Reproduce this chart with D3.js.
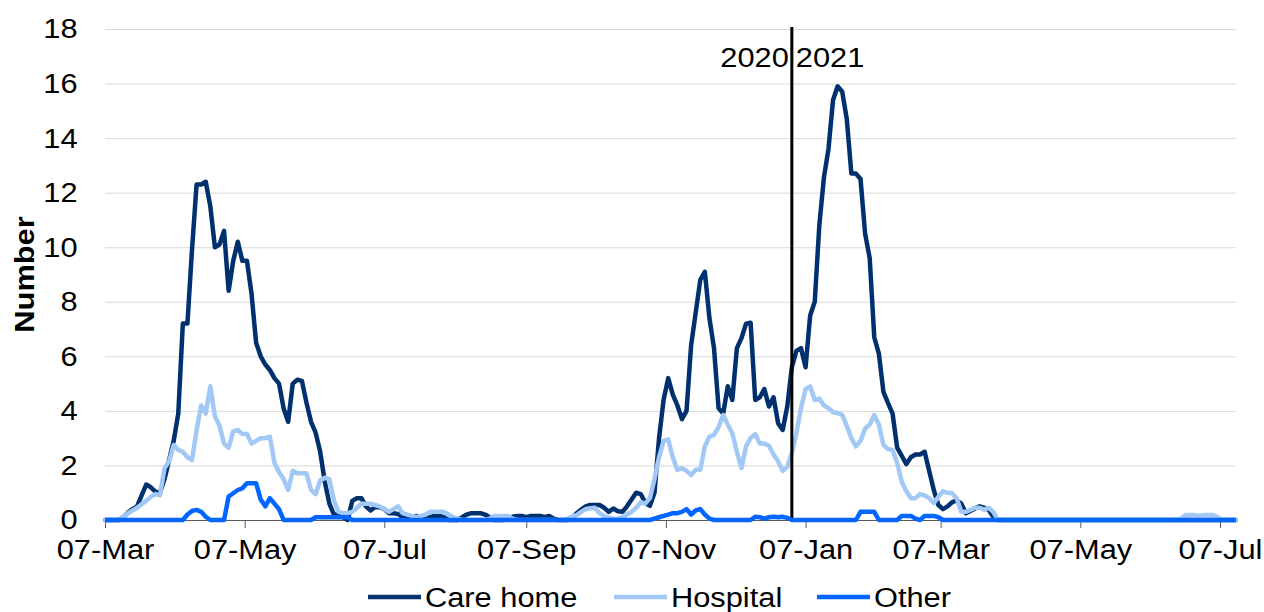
<!DOCTYPE html>
<html>
<head>
<meta charset="utf-8">
<script src="https://cdn.jsdelivr.net/npm/d3@7"></script>
<style>
  html, body { margin: 0; padding: 0; background: #fff; }
  svg { display: block; font-family: "Liberation Sans", Arial, sans-serif; }
</style>
</head>
<body>
<div id="chart"></div>
<script>
// daily series sampled every 2 days from 07-Mar-2020
const startDate = new Date(2020, 2, 7);
const endDate = new Date(2021, 6, 14);
const stepDays = 2;

const careHome = [
  0, 0, 0, 0, 0.1, 0.27, 0.4, 0.5, 0.9, 1.3,
  1.2, 1.04, 1.0, 1.5, 2.2, 2.9, 3.9, 7.2, 7.2, 9.9,
  12.3, 12.3, 12.4, 11.5, 10.0, 10.1, 10.6, 8.4, 9.5, 10.2,
  9.5, 9.5, 8.3, 6.5, 6.0, 5.7, 5.5, 5.2, 5.0, 4.1,
  3.6, 5.0, 5.14, 5.1, 4.3, 3.6, 3.2, 2.5, 1.4, 0.6,
  0.2, 0.2, 0.1, 0, 0.7, 0.8, 0.8, 0.5, 0.35, 0.48,
  0.47, 0.4, 0.25, 0.25, 0.22, 0.1, 0.1, 0.12, 0.15, 0.1,
  0.05, 0.1, 0.15, 0.15, 0.1, 0, 0, 0, 0.1, 0.2,
  0.25, 0.25, 0.25, 0.2, 0.1, 0, 0, 0, 0.05, 0.12,
  0.15, 0.15, 0.1, 0.15, 0.15, 0.15, 0.1, 0.15, 0.05, 0,
  0, 0, 0.05, 0.25, 0.38, 0.5, 0.55, 0.55, 0.55, 0.45,
  0.3, 0.42, 0.32, 0.3, 0.5, 0.75, 1.0, 0.95, 0.62, 0.52,
  1.0, 3.0, 4.42, 5.2, 4.6, 4.2, 3.7, 4.0, 6.4, 7.6,
  8.8, 9.1, 7.4, 6.3, 4.1, 3.9, 4.9, 4.4, 6.3, 6.67,
  7.2, 7.23, 4.4, 4.5, 4.8, 4.16, 4.5, 3.55, 3.3, 4.16,
  5.6, 6.2, 6.3, 5.6, 7.5, 8.0, 10.8, 12.55, 13.6, 15.4,
  15.9, 15.7, 14.7, 12.7, 12.7, 12.5, 10.5, 9.6, 6.7, 6.1,
  4.7, 4.29, 3.9, 2.65, 2.35, 2.05, 2.3, 2.4, 2.4, 2.5,
  1.8, 1.1, 0.55, 0.4, 0.5, 0.65, 0.72, 0.6, 0.25, 0.33,
  0.42, 0.5, 0.45, 0.37, 0.12, 0, 0, 0, 0, 0,
  0, 0, 0, 0, 0, 0, 0, 0, 0, 0,
  0, 0, 0, 0, 0, 0, 0, 0, 0, 0,
  0, 0, 0, 0, 0, 0, 0, 0, 0, 0,
  0, 0, 0, 0, 0, 0, 0, 0, 0, 0,
  0, 0, 0, 0, 0, 0, 0, 0
];

const hospital = [
  0, 0, 0, 0, 0.1, 0.25, 0.35, 0.45, 0.58, 0.7,
  0.85, 0.95, 0.9, 1.9, 2.15, 2.75, 2.57, 2.5, 2.3, 2.2,
  3.3, 4.2, 3.9, 4.9, 3.8, 3.45, 2.8, 2.65, 3.25, 3.3,
  3.15, 3.15, 2.8, 2.9, 3.0, 3.0, 3.06, 2.1, 1.75, 1.5,
  1.1, 1.8, 1.71, 1.71, 1.71, 1.1, 0.95, 1.45, 1.55, 1.5,
  0.7, 0.3, 0.25, 0.25, 0.3, 0.45, 0.6, 0.6, 0.6, 0.55,
  0.5, 0.4, 0.3, 0.4, 0.5, 0.25, 0.2, 0.15, 0.1, 0.15,
  0.2, 0.3, 0.3, 0.3, 0.3, 0.2, 0.1, 0.05, 0, 0,
  0, 0, 0, 0, 0.05, 0.15, 0.15, 0.15, 0.15, 0.05,
  0, 0, 0, 0, 0, 0, 0, 0, 0, 0,
  0, 0.05, 0.12, 0.18, 0.3, 0.4, 0.43, 0.45, 0.25, 0.15,
  0.08, 0.05, 0.05, 0.1, 0.2, 0.3, 0.45, 0.65, 0.6, 0.8,
  1.5, 2.3, 2.9, 2.95, 2.3, 1.84, 1.9, 1.8, 1.65, 1.84,
  1.84, 2.7, 3.06, 3.12, 3.4, 3.85, 3.5, 3.18, 2.5, 1.9,
  2.7, 3.0, 3.15, 2.8, 2.8, 2.72, 2.4, 2.15, 1.8, 1.95,
  2.45, 3.2, 4.1, 4.8, 4.9, 4.4, 4.45, 4.2, 4.1, 3.95,
  3.92, 3.85, 3.45, 3.0, 2.7, 2.9, 3.35, 3.5, 3.85, 3.5,
  2.75, 2.6, 2.57, 2.1, 1.4, 1.05, 0.8, 0.8, 0.95, 0.9,
  0.8, 0.62, 0.85, 1.05, 1.0, 0.98, 0.8, 0.3, 0.3, 0.37,
  0.45, 0.45, 0.38, 0.45, 0.3, 0, 0, 0, 0, 0,
  0, 0, 0, 0, 0, 0, 0, 0, 0, 0,
  0, 0, 0, 0, 0, 0, 0, 0, 0, 0,
  0, 0, 0, 0, 0, 0, 0, 0, 0, 0,
  0, 0, 0, 0, 0, 0.05, 0.18, 0.18, 0.18, 0.15,
  0.18, 0.18, 0.18, 0.1, 0, 0, 0, 0
];

const other = [
  0, 0, 0, 0, 0, 0, 0, 0, 0, 0,
  0, 0, 0, 0, 0, 0, 0, 0, 0.2, 0.33,
  0.37, 0.3, 0.12, 0, 0, 0, 0, 0.86, 0.98, 1.1,
  1.16, 1.35, 1.35, 1.35, 0.75, 0.5, 0.8, 0.6, 0.4, 0,
  0, 0, 0, 0, 0, 0, 0.1, 0.1, 0.1, 0.1,
  0.1, 0.1, 0.1, 0.1, 0, 0, 0, 0, 0, 0,
  0, 0, 0, 0, 0, 0, 0, 0, 0, 0,
  0, 0, 0, 0, 0, 0, 0, 0, 0, 0,
  0, 0, 0, 0, 0, 0, 0, 0, 0, 0,
  0, 0, 0, 0, 0, 0, 0, 0, 0, 0,
  0, 0, 0, 0, 0, 0, 0, 0, 0, 0,
  0, 0, 0, 0, 0, 0, 0, 0, 0, 0,
  0.05, 0.1, 0.15, 0.2, 0.25, 0.25, 0.3, 0.4, 0.2, 0.35,
  0.4, 0.2, 0.05, 0, 0, 0, 0, 0, 0, 0,
  0, 0, 0.12, 0.1, 0.05, 0.1, 0.12, 0.1, 0.12, 0.08,
  0, 0, 0, 0, 0, 0, 0, 0, 0, 0,
  0, 0, 0, 0, 0, 0.3, 0.3, 0.3, 0.3, 0,
  0, 0, 0, 0, 0.15, 0.15, 0.15, 0.05, 0, 0.15,
  0.15, 0.15, 0.1, 0, 0, 0, 0, 0, 0, 0,
  0, 0, 0, 0, 0, 0, 0, 0, 0, 0,
  0, 0, 0, 0, 0, 0, 0, 0, 0, 0,
  0, 0, 0, 0, 0, 0, 0, 0, 0, 0,
  0, 0, 0, 0, 0, 0, 0, 0, 0, 0,
  0, 0, 0, 0, 0, 0, 0, 0, 0, 0,
  0, 0, 0, 0, 0, 0, 0, 0
];

const xTickDates = ['2020-03-07', '2020-05-07', '2020-07-07', '2020-09-07', '2020-11-07',
  '2021-01-07', '2021-03-07', '2021-05-07', '2021-07-07'];
const yTicks = [0, 2, 4, 6, 8, 10, 12, 14, 16, 18];
const yearSplit = '2021-01-01';
const yearLabels = ['2020', '2021'];

const seriesNames = ['Care home', 'Hospital', 'Other'];
const seriesColors = ['#00306e', '#a2c8f6', '#0066ff'];

const width = 1264, height = 612;
const plot = { left: 105, right: 1236, top: 29, bottom: 520 };
const textScale = 'scale(1.1,1)';

const parseDay = d3.timeParse('%Y-%m-%d');
const dates = careHome.map((_, i) => d3.timeDay.offset(startDate, i * stepDays));

const svg = d3.select('#chart').append('svg')
  .attr('width', width)
  .attr('height', height);

const x = d3.scaleTime()
  .domain([startDate, endDate])
  .range([plot.left, plot.right]);

const y = d3.scaleLinear()
  .domain([0, 18])
  .range([plot.bottom, plot.top]);

// gridlines
svg.append('g')
  .attr('transform', `translate(${plot.left},0)`)
  .call(d3.axisLeft(y).tickValues(yTicks.slice(1)).tickFormat('').tickSize(-(plot.right - plot.left)))
  .call(g => g.select('.domain').remove())
  .call(g => g.selectAll('line').attr('stroke', '#d9d9d9').attr('stroke-width', 1));

// y axis labels
svg.append('g')
  .attr('transform', `translate(${plot.left},0)`)
  .call(d3.axisLeft(y).tickValues(yTicks).tickSize(0).tickPadding(25))
  .call(g => g.select('.domain').remove())
  .call(g => g.selectAll('text')
    .attr('font-size', 28)
    .attr('fill', '#000')
    .attr('font-family', '"Liberation Sans", Arial, sans-serif')
    .attr('transform', textScale));

// x axis
svg.append('g')
  .attr('transform', `translate(0,${plot.bottom})`)
  .call(d3.axisBottom(x)
    .tickValues(xTickDates.map(parseDay))
    .tickFormat(d3.timeFormat('%d-%b'))
    .tickSize(8)
    .tickSizeOuter(0)
    .tickPadding(11))
  .call(g => g.select('.domain').attr('stroke', '#595959'))
  .call(g => g.selectAll('line').attr('stroke', '#595959'))
  .call(g => g.selectAll('text')
    .attr('font-size', 28)
    .attr('fill', '#000')
    .attr('font-family', '"Liberation Sans", Arial, sans-serif')
    .attr('transform', textScale));

// y title
svg.append('text')
  .attr('transform', `translate(34,${(plot.top + plot.bottom) / 2}) rotate(-90) ${textScale}`)
  .attr('text-anchor', 'middle')
  .attr('font-size', 28)
  .attr('font-weight', 'bold')
  .text('Number');

const line = d3.line()
  .x((d, i) => x(dates[i]))
  .y(d => y(d));

const allSeries = [careHome, hospital, other];

allSeries.slice(0, 2).forEach((s, k) => {
  svg.append('path')
    .datum(s)
    .attr('fill', 'none')
    .attr('stroke', seriesColors[k])
    .attr('stroke-width', 4.5)
    .attr('stroke-linejoin', 'round')
    .attr('stroke-linecap', 'round')
    .attr('d', line);
});

// year divider
const splitX = x(parseDay(yearSplit));
svg.append('line')
  .attr('x1', splitX).attr('x2', splitX)
  .attr('y1', plot.top - 2).attr('y2', plot.bottom)
  .attr('stroke', '#000')
  .attr('stroke-width', 3);

svg.append('text')
  .attr('transform', `translate(${splitX - 3},67) ${textScale}`)
  .attr('text-anchor', 'end')
  .attr('font-size', 28)
  .text(yearLabels[0]);
svg.append('text')
  .attr('transform', `translate(${splitX + 4},67) ${textScale}`)
  .attr('text-anchor', 'start')
  .attr('font-size', 28)
  .text(yearLabels[1]);

svg.append('path')
  .datum(other)
  .attr('fill', 'none')
  .attr('stroke', seriesColors[2])
  .attr('stroke-width', 4.5)
  .attr('stroke-linejoin', 'round')
  .attr('d', line);

// legend
const legendPos = [368, 614, 817];
const legend = svg.append('g');
seriesNames.forEach((name, k) => {
  const g = legend.append('g').attr('transform', `translate(${legendPos[k]},597)`);
  g.append('line')
    .attr('x1', 0).attr('x2', 53)
    .attr('stroke', seriesColors[k])
    .attr('stroke-width', 4.5);
  g.append('text')
    .attr('transform', `translate(57,10) ${textScale}`)
    .attr('font-size', 28)
    .text(name);
});
</script>
</body>
</html>
